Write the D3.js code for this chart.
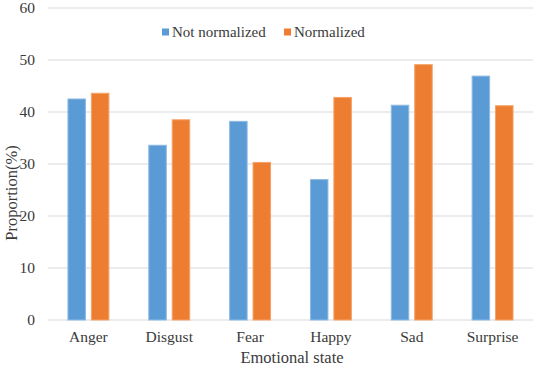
<!DOCTYPE html>
<html>
<head>
<meta charset="utf-8">
<script src="https://cdn.jsdelivr.net/npm/d3@7"></script>
<style>
  body { margin: 0; background: #fff; }
  svg text { font-family: "Liberation Serif", "Times New Roman", serif; fill: #3a3a3a; }
</style>
</head>
<body>
<svg id="chart" width="536" height="367"></svg>
<script>
// data
const categories = ['Anger', 'Disgust', 'Fear', 'Happy', 'Sad', 'Surprise'];
const seriesNames = ['Not normalized', 'Normalized'];
const notNormalized = [42.6, 33.7, 38.3, 27.1, 41.4, 47.0];
const normalized = [43.7, 38.6, 30.4, 42.9, 49.2, 41.3];
const yTicks = [0, 10, 20, 30, 40, 50, 60];
const colors = ['#5b9bd5', '#ed7d31'];
const edges = ['#8dbbe6', '#f5a36a'];

const svg = d3.select('#chart');
const margin = { top: 8, right: 3, bottom: 47, left: 48 };
const W = 536, H = 367;

const x = d3.scaleBand().domain(categories).range([margin.left, W - margin.right]);
const xs = d3.scaleBand().domain(seriesNames).range([0, x.bandwidth()]).paddingInner(0.21).paddingOuter(0.83);
const y = d3.scaleLinear().domain([0, 60]).range([H - margin.bottom, margin.top]);

// gridlines
svg.append('g')
  .selectAll('line')
  .data(yTicks)
  .join('line')
  .attr('x1', margin.left).attr('x2', W - margin.right)
  .attr('y1', d => y(d)).attr('y2', d => y(d))
  .attr('stroke', '#d9d9d9').attr('stroke-width', 1);

// y tick labels
svg.append('g')
  .selectAll('text')
  .data(yTicks)
  .join('text')
  .attr('x', 35).attr('y', d => y(d))
  .attr('dy', '0.35em')
  .attr('text-anchor', 'end')
  .style('font-size', '15.5px')
  .text(d => d);

// bars
const rows = categories.map((c, i) => ({ cat: c, vals: [notNormalized[i], normalized[i]] }));
svg.append('g')
  .selectAll('g')
  .data(rows)
  .join('g')
  .attr('transform', d => `translate(${x(d.cat)},0)`)
  .selectAll('rect')
  .data(d => d.vals.map((v, j) => ({ key: seriesNames[j], v, j })))
  .join('rect')
  .attr('x', d => xs(d.key) + 0.5)
  .attr('width', xs.bandwidth() - 1)
  .attr('y', d => y(d.v) + 0.5)
  .attr('height', d => y(0) - y(d.v) - 0.5)
  .attr('fill', d => colors[d.j])
  .attr('stroke', d => edges[d.j])
  .attr('stroke-width', 1);

// x labels
svg.append('g')
  .selectAll('text')
  .data(categories)
  .join('text')
  .attr('x', d => x(d) + x.bandwidth() / 2)
  .attr('y', 342)
  .attr('text-anchor', 'middle')
  .style('font-size', '15.5px')
  .text(d => d);

// axis titles
svg.append('text')
  .attr('x', 292)
  .attr('y', 363)
  .attr('text-anchor', 'middle')
  .style('font-size', '16.5px')
  .text('Emotional state');

svg.append('text')
  .attr('transform', 'translate(17,193) rotate(-90)')
  .attr('text-anchor', 'middle')
  .style('font-size', '16.5px')
  .text('Proportion(%)');

// legend
const legendX = [162, 284];
const legend = svg.append('g')
  .selectAll('g')
  .data(seriesNames)
  .join('g')
  .attr('transform', (d, i) => `translate(${legendX[i]},32)`);
legend.append('rect')
  .attr('x', 0).attr('y', -3.5).attr('width', 7).attr('height', 7)
  .attr('fill', (d, i) => colors[i]);
legend.append('text')
  .attr('x', 10).attr('dy', '0.35em')
  .style('font-size', '15px')
  .text(d => d);
</script>
</body>
</html>
